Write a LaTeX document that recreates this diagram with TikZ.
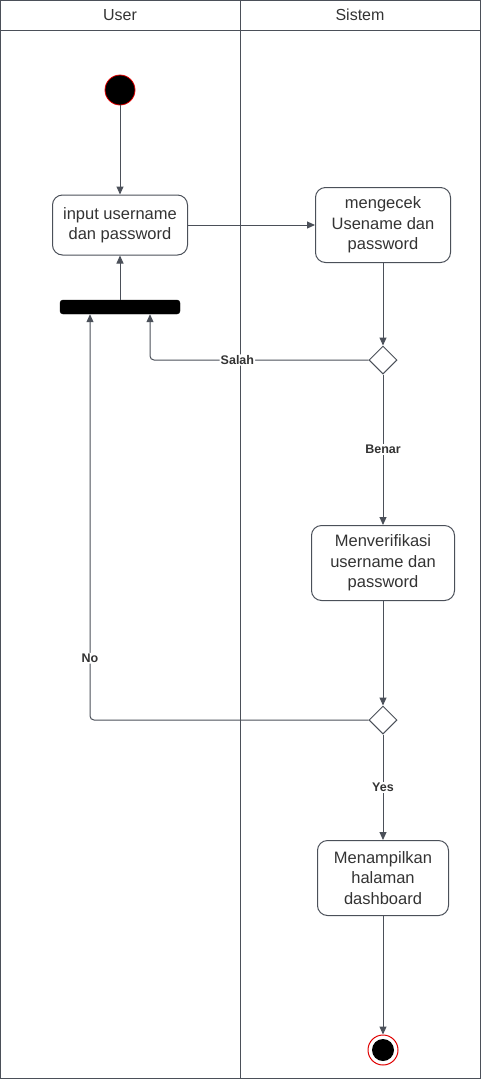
\documentclass[tikz,border=0pt]{standalone}
\usepackage{fontspec}
\setmainfont{Liberation Sans}
\usepackage{xcolor}
\definecolor{garis}{HTML}{4B5059}
\definecolor{teks}{HTML}{333333}
\definecolor{merah}{HTML}{E00000}
\usepackage{tikz}
\usetikzlibrary{shapes.geometric}
\usetikzlibrary{arrows.meta}

\tikzset{
    kotak/.style={draw=garis, line width=1pt, rounded corners=10pt, text=teks, align=center,
        font=\fontsize{16.5}{20.5}\selectfont, inner sep=0pt},
    cabang/.style={draw=garis, line width=1pt, diamond, minimum width=28pt, minimum height=28pt,
        inner sep=0pt, fill=white},
    panah/.style={draw=garis, line width=1pt, -{Triangle[length=8pt,width=7pt]}},
    ket/.style={fill=white, text=teks, inner sep=1pt,
        font=\fontsize{12.5}{14}\selectfont\bfseries}
}

\begin{document}
\begin{tikzpicture}[x=1pt, y=-1pt]
            \useasboundingbox (0, 0) rectangle (481, 1080);

            \draw[garis, line width=0.9pt] (0.5, 0.5) rectangle (480, 1078);
            \draw[garis, line width=0.9pt] (0.5, 30) -- (480, 30);
            \draw[garis, line width=0.9pt] (240, 0.5) -- (240, 1078);

            \node[text=teks, font=\fontsize{16}{20}\selectfont] (user) at (120, 15) {User};
            \node[text=teks, font=\fontsize{16}{20}\selectfont] (sistem) at (360, 15) {Sistem};

            \node[circle, draw=merah, line width=0.8pt, fill=black, minimum size=30pt, inner sep=0pt] (mulai) at (120, 90) {};

            \node[kotak, minimum width=135pt, minimum height=60pt] (input) at (120, 225)
                {input username\\dan password};
            \node[kotak, minimum width=135pt, minimum height=75pt] (cek) at (383, 225)
                {mengecek\\Usename dan\\password};

            \node[fill=black, draw=black, rounded corners=3pt, minimum width=120pt,
                minimum height=14pt, inner sep=0pt] (bar) at (120, 307) {};

            \node[cabang] (cabang1) at (383, 360) {};
            \node[kotak, minimum width=143pt, minimum height=75pt] (verif) at (383, 563)
                {Menverifikasi\\username dan\\password};
            \node[cabang] (cabang2) at (383, 720) {};
            \node[kotak, minimum width=131pt, minimum height=75pt] (tampil) at (383, 878)
                {Menampilkan\\halaman\\dashboard};

            \node[circle, draw=merah, line width=1pt, fill=white, minimum size=30pt, inner sep=0pt] (selesai) at (383, 1050) {};
            \node[circle, fill=black, minimum size=22pt, inner sep=0pt] (titik) at (selesai) {};

            \draw[panah] (mulai) -- (input);
            \draw[panah] (bar) -- (input);
            \draw[panah] (input) -- (cek);
            \draw[panah] (cek) -- (cabang1);
            \draw[panah, rounded corners=4pt] (cabang1.west) -| node[ket, pos=0.3] {Salah}
                ([xshift=30pt]bar.south);
            \draw[panah] (cabang1) -- node[ket] {Benar} (verif);
            \draw[panah] (verif) -- (cabang2);
            \draw[panah, rounded corners=4pt] (cabang2.west) -| node[ket, pos=0.576] {No}
                ([xshift=-30pt]bar.south);
            \draw[panah] (cabang2) -- node[ket] {Yes} (tampil);
            \draw[panah] (tampil) -- (selesai);
        \end{tikzpicture}
\end{document}
